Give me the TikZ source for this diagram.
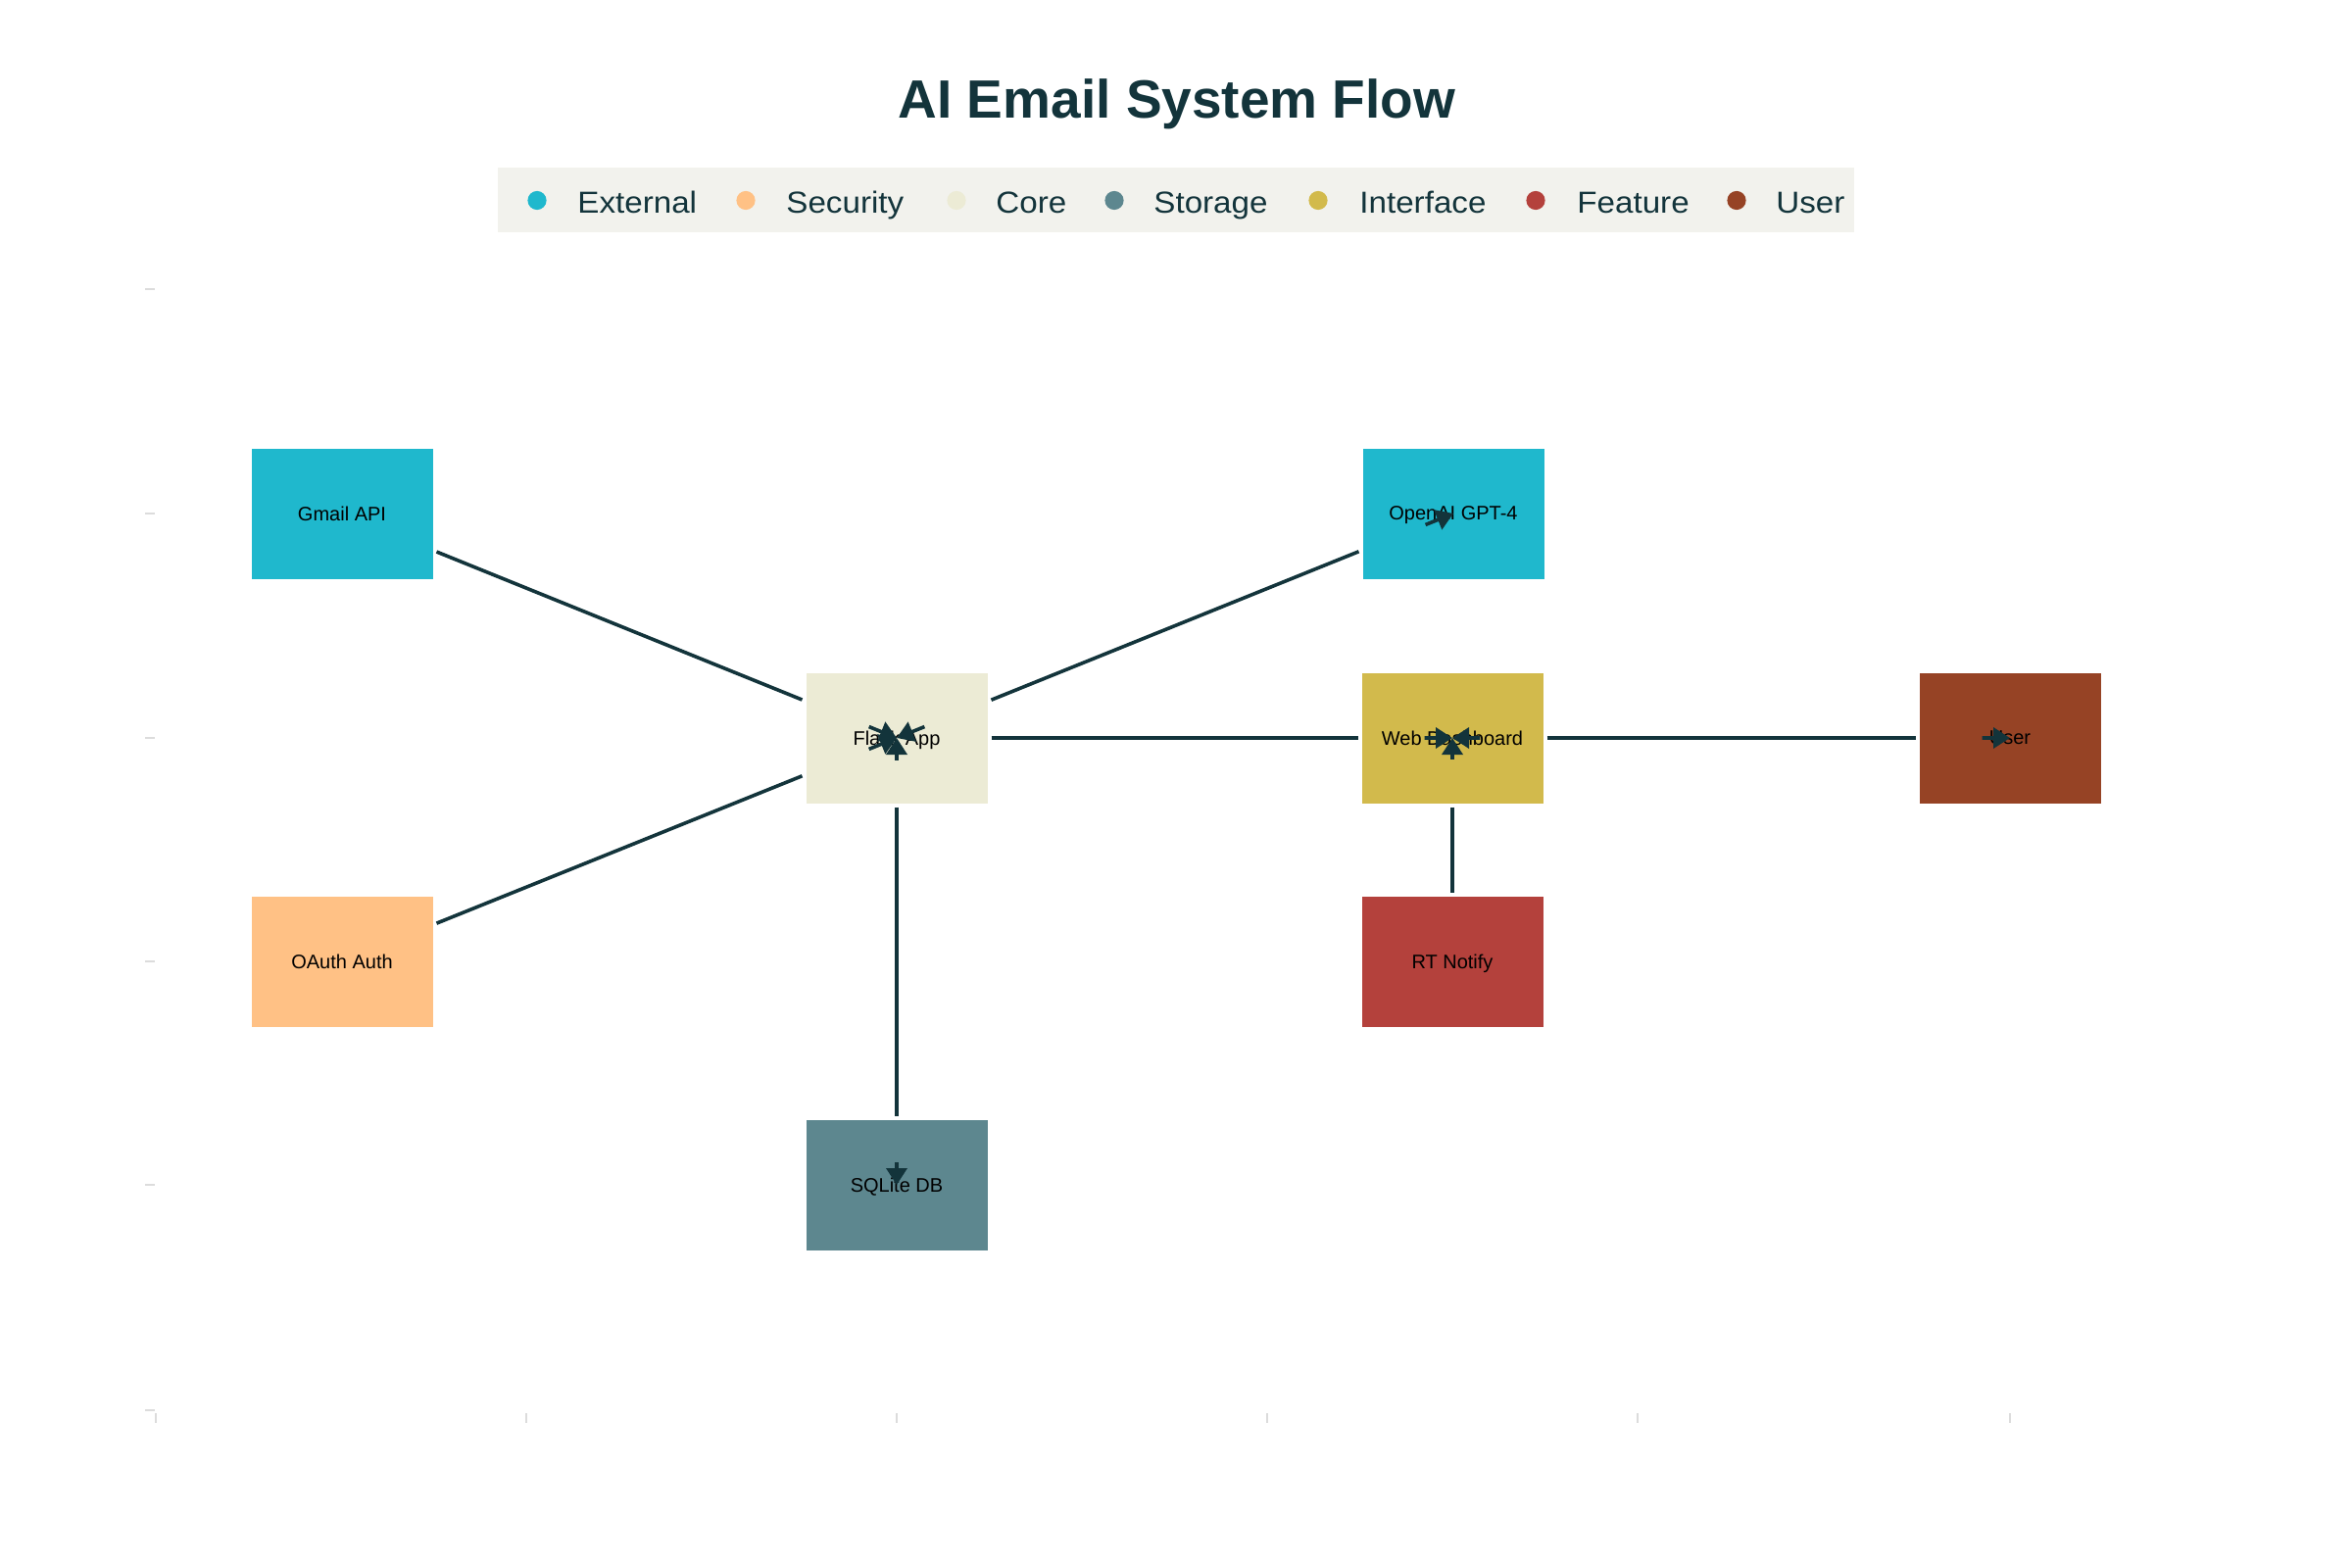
\documentclass[tikz,border=0pt]{standalone}
\usepackage{fontspec}
\setmainfont{Liberation Sans}
\newfontfamily\legfont{Liberation Sans}[FakeStretch=1.07]
\usetikzlibrary{arrows.meta,calc}
\definecolor{ink}{HTML}{13343B}
\definecolor{cExt}{HTML}{1FB8CD}
\definecolor{cSec}{HTML}{FFC185}
\definecolor{cCore}{HTML}{ECEBD5}
\definecolor{cSto}{HTML}{5D878F}
\definecolor{cInt}{HTML}{D2BA4C}
\definecolor{cFeat}{HTML}{B4413C}
\definecolor{cUser}{HTML}{964325}
\definecolor{legbg}{HTML}{F2F2ED}
\definecolor{tickc}{HTML}{DCDCDC}
\begin{document}
\begin{tikzpicture}[x=0.5pt,y=-0.5pt,
  box/.style={rectangle, minimum width=92.5pt, minimum height=66.5pt, inner sep=0pt, outer sep=2pt, text depth=0pt, font=\fontsize{10}{12}\selectfont, text=black},
  link/.style={draw=ink, line width=1.8pt},
  arr/.style={draw=ink, line width=1.8pt, -{Triangle[length=8.5pt,width=10.5pt]}},
  tickmark/.style={draw=tickc, line width=1pt},
  legtext/.style={anchor=base west, text=ink, font=\legfont\fontsize{15.5}{18}\selectfont, inner sep=0pt},
  legdot/.style={circle, inner sep=0pt, minimum size=9.6pt}
]
\useasboundingbox[fill=white] (0,0) rectangle (2400,1600);

% title
\node[anchor=base, text=ink, font=\fontsize{27.5}{32}\selectfont\bfseries] (title) at (1201,121) {AI Email System Flow};

% legend
\fill[legbg] (508,171) rectangle (1892,237);
\node[legdot, fill=cExt]  (dExt)  at (548,204.5) {};
\node[legdot, fill=cSec]  (dSec)  at (761,204.5) {};
\node[legdot, fill=cCore] (dCore) at (976,204.5) {};
\node[legdot, fill=cSto]  (dSto)  at (1137,204.5) {};
\node[legdot, fill=cInt]  (dInt)  at (1345,204.5) {};
\node[legdot, fill=cFeat] (dFeat) at (1567,204.5) {};
\node[legdot, fill=cUser] (dUser) at (1772,204.5) {};
\node[legtext] (lExt)  at (589,217)  {External};
\node[legtext] (lSec)  at (802,217)  {Security};
\node[legtext] (lCore) at (1016,217) {Core};
\node[legtext] (lSto)  at (1177,217) {Storage};
\node[legtext] (lInt)  at (1387,217) {Interface};
\node[legtext] (lFeat) at (1609,217) {Feature};
\node[legtext] (lUser) at (1812,217) {User};

% axis ticks
\foreach \yy in {295,524,753,981,1209,1439} \draw[tickmark] (148,\yy) -- (158,\yy);
\foreach \xx in {159,537,915,1293,1671,2051} \draw[tickmark] (\xx,1442) -- (\xx,1452);

% nodes
\node[box, fill=cExt]  (gmail)  at (349,524)  {Gmail API};
\node[box, fill=cExt]  (openai) at (1483,524) {OpenAI GPT-4};
\node[box, fill=cCore] (flask)  at (915,753)  {Flask App};
\node[box, fill=cInt]  (web)    at (1482,753) {Web Dashboard};
\node[box, fill=cUser] (user)   at (2051,753) {User};
\node[box, fill=cSec]  (oauth)  at (349,981)  {OAuth Auth};
\node[box, fill=cFeat] (rt)     at (1482,981) {RT Notify};
\node[box, fill=cSto]  (db)     at (915,1209) {SQLite DB};

% connectors
\draw[link] (gmail) -- (flask);
\draw[link] (oauth) -- (flask);
\draw[link] (flask) -- (openai);
\draw[link] (flask) -- (web);
\draw[link] (flask) -- (db);
\draw[link] (web) -- (user);
\draw[link] (web) -- (rt);

% arrow markers at target centres
\coordinate (tGF) at ($(flask.center)!0.05!(gmail.center)$);
\coordinate (tOF) at ($(flask.center)!0.05!(oauth.center)$);
\coordinate (tAF) at ($(flask.center)!0.05!(openai.center)$);
\coordinate (tFA) at ($(openai.center)!0.05!(flask.center)$);
\coordinate (tDF) at ($(flask.center)!0.05!(db.center)$);
\coordinate (tFD) at ($(db.center)!0.05!(flask.center)$);
\coordinate (tFW) at ($(web.center)!0.05!(flask.center)$);
\coordinate (tUW) at ($(web.center)!0.05!(user.center)$);
\coordinate (tRW) at ($(web.center)!0.095!(rt.center)$);
\coordinate (tWU) at ($(user.center)!0.05!(web.center)$);
\draw[arr] (tGF) -- (flask.center);
\draw[arr] (tOF) -- (flask.center);
\draw[arr] (tAF) -- (flask.center);
\draw[arr] (tDF) -- (flask.center);
\draw[arr] (tFA) -- (openai.center);
\draw[arr] (tFD) -- (db.center);
\draw[arr] (tFW) -- (web.center);
\draw[arr] (tUW) -- (web.center);
\draw[arr] (tRW) -- (web.center);
\draw[arr] (tWU) -- (user.center);
\end{tikzpicture}
\end{document}
